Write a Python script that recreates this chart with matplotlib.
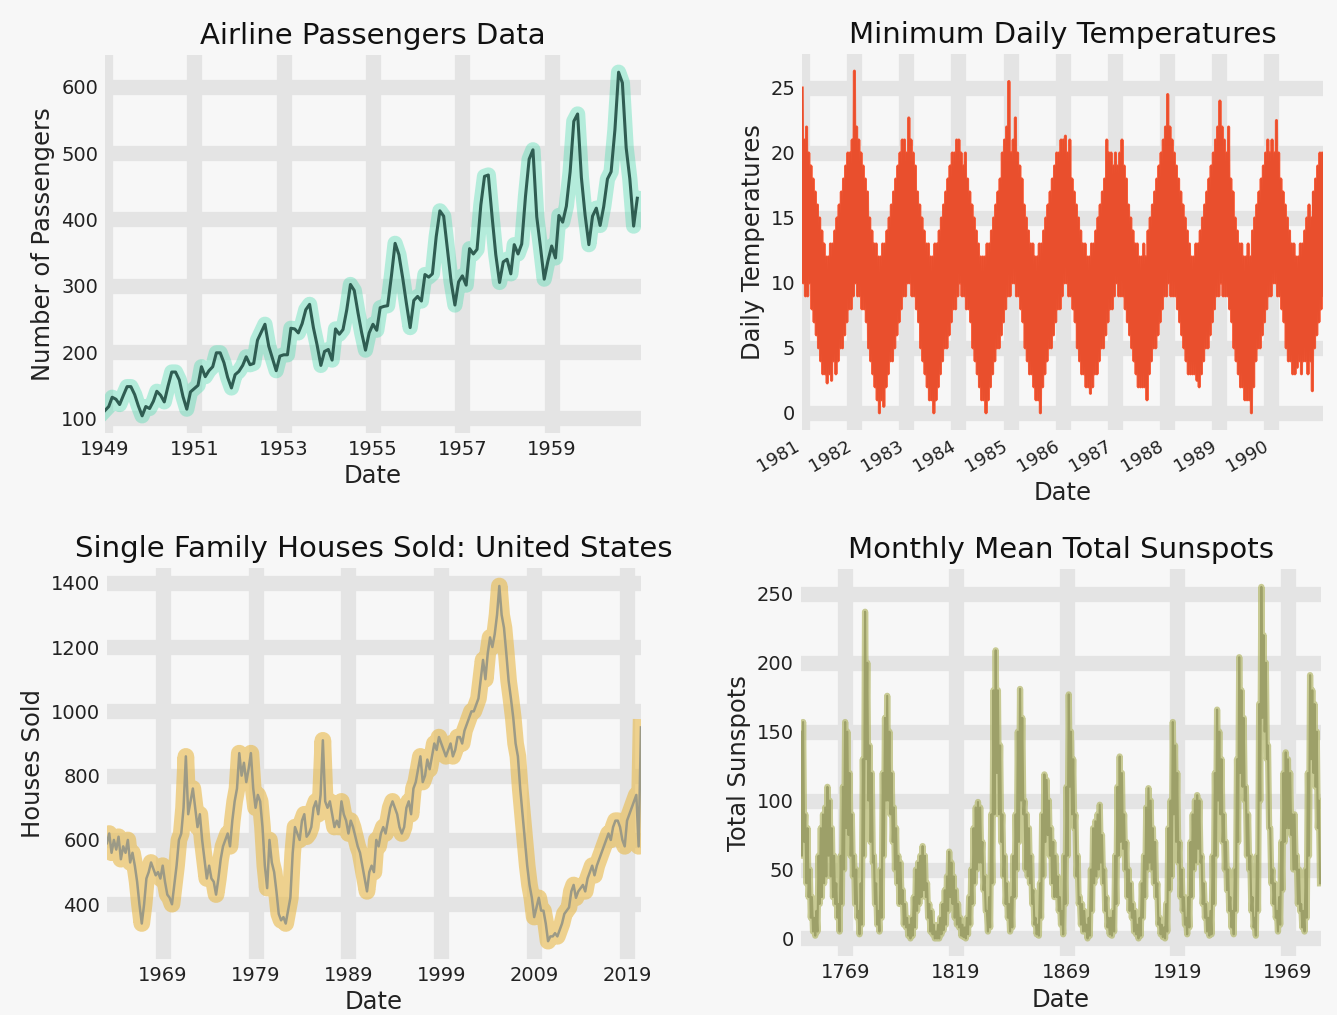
import matplotlib
matplotlib.use('Agg')
import matplotlib.pyplot as plt
import pandas as pd

# ---------------- data ----------------
airline_start = '1949-01-01'
airline_passengers = [
    112, 118, 132, 129, 121, 135, 148, 148, 136, 119, 104, 118,
    115, 126, 141, 135, 125, 149, 170, 170, 158, 133, 114, 140,
    145, 150, 178, 163, 172, 178, 199, 199, 184, 162, 146, 166,
    171, 180, 193, 181, 183, 218, 230, 242, 209, 191, 172, 194,
    196, 196, 236, 235, 229, 243, 264, 272, 237, 211, 180, 201,
    204, 188, 235, 227, 234, 264, 302, 293, 259, 229, 203, 229,
    242, 233, 267, 269, 270, 315, 364, 347, 312, 274, 237, 278,
    284, 277, 317, 313, 318, 374, 413, 405, 355, 306, 271, 306,
    315, 301, 356, 348, 355, 422, 465, 467, 404, 347, 305, 336,
    340, 318, 362, 348, 363, 435, 491, 505, 404, 359, 310, 337,
    360, 342, 406, 396, 420, 472, 548, 559, 463, 407, 362, 405,
    417, 391, 419, 461, 472, 535, 622, 606, 508, 461, 390, 432,
]
airline_years = [1949, 1951, 1953, 1955, 1957, 1959]
airline_yticks = [100, 200, 300, 400, 500, 600]

# four readings per month (high / low alternating), 1981-1990
temps_start = '1981-01-01'
temps_end = '1990-12-31'
min_temps = [
    # 1981
    25, 10, 21, 9, 22, 9, 20, 10, 19, 8, 18, 7, 17, 6, 16, 5, 15, 4, 14, 3, 13, 3, 12, 2.3,
    12, 3, 13, 2.5, 13, 4, 14, 3, 15, 4, 16, 5, 17, 5, 18, 6, 19, 7, 20, 8, 20, 8, 21, 9,
    # 1982
    26.3, 10, 22, 9, 21, 9, 20, 8, 19, 8, 18, 7, 17, 5, 15, 4, 14, 3, 13, 2, 13, 1, 12, 0,
    12, 1, 13, 0.5, 13, 2, 14, 3, 15, 4, 16, 4, 17, 5, 18, 6, 19, 7, 20, 8, 21, 9, 21, 9,
    # 1983
    20, 10, 22.7, 10, 21, 9, 20, 9, 19, 8, 17, 7, 16, 5, 15, 4, 14, 3, 13, 2, 13, 1, 12, 1,
    12, 0, 13, 1, 13, 2, 14, 3, 15, 4, 16, 5, 17, 5, 18, 6, 19, 7, 20, 8, 20, 8, 21, 9,
    # 1984
    21, 10, 20, 9, 19, 9, 20, 8, 18, 8, 17, 7, 16, 5, 15, 4, 14, 3, 13, 2, 12, 1, 12, 1,
    12, 0, 13, 1, 13, 2, 14, 3, 15, 4, 16, 5, 17, 5, 18, 6, 20, 7, 21, 8, 22, 9, 25.5, 9,
    # 1985
    20, 10, 21, 10, 22.7, 9, 20, 9, 19, 8, 18, 7, 16, 5, 15, 4, 14, 3, 13, 3, 13, 2, 12, 1,
    12, 1, 13, 0, 13, 2, 14, 3, 15, 4, 16, 5, 17, 5, 18, 6, 19, 7, 20, 8, 20, 8, 21, 9,
    # 1986
    21, 10, 21.3, 10, 20, 9, 21, 9, 18, 8, 17, 7, 16, 5, 15, 4, 14, 3, 13, 3, 13, 2, 12, 2,
    12, 1.5, 13, 2, 13, 3, 14, 3, 15, 4, 16, 5, 17, 5, 18, 6, 21, 7, 20, 8, 20, 8, 19, 9,
    # 1987
    20, 10, 19, 9, 20, 9, 21, 9, 19, 8, 18, 7, 16, 6, 15, 5, 14, 4, 13, 3, 13, 2, 12, 2,
    12, 2, 13, 2, 12, 1, 14, 3, 15, 4, 16, 5, 17, 5, 18, 6, 19, 7, 20, 8, 21, 9, 22, 9,
    # 1988
    24.5, 10, 22, 9, 21, 9, 20, 9, 19, 8, 18, 7, 17, 6, 16, 5, 15, 4, 14, 3, 13, 3, 12, 3,
    12, 3, 13, 2.5, 13, 2, 14, 3, 15, 4, 16, 5, 17, 5, 18, 6, 19, 7, 20, 8, 21, 9, 22, 9,
    # 1989
    24, 10, 22, 9, 21, 9, 20, 9, 22, 8, 18, 7, 17, 5, 15, 4, 14, 3, 13, 2, 13, 2, 12, 1,
    12, 1, 13, 1, 12, 0, 14, 2, 15, 4, 16, 5, 17, 5, 18, 6, 19, 7, 20, 8, 21, 9, 20, 9,
    # 1990
    21, 10, 20, 10, 22.5, 9, 20, 9, 18, 8, 17, 7, 16, 5, 15, 4, 14, 4, 13, 3, 13, 3, 12, 3.5,
    12, 4, 13, 3, 13, 4, 14, 4, 15, 3, 16, 4, 15, 1.7, 17, 5, 18, 6, 19, 7, 20, 8, 20, 9,
]
temps_years = list(range(1981, 1991))
temps_yticks = [0, 5, 10, 15, 20, 25]

# quarterly readings, 1963 - 2020
houses_start = '1963-01-01'
houses_sold = [
    590, 620, 560, 600,  570, 610, 540, 580,  560, 600, 530, 560,  520, 470, 400, 340,
    400, 480, 500, 530,  510, 490, 500, 480,  520, 470, 430, 420,  400, 460, 520, 600,
    620, 700, 860, 680,  720, 760, 700, 640,  680, 600, 540, 480,  520, 480, 470, 430,
    480, 540, 580, 600,  620, 580, 660, 720,  760, 870, 800, 840,  780, 820, 870, 760,
    700, 740, 720, 640,  520, 450, 600, 530,  500, 440, 370, 350,  360, 340, 380, 420,
    560, 640, 620, 600,  660, 680, 610, 620,  640, 700, 720, 680,  740, 910, 720, 700,
    720, 680, 640, 660,  640, 720, 680, 660,  620, 660, 640, 610,  580, 560, 520, 480,
    440, 500, 520, 500,  600, 580, 620, 640,  620, 660, 700, 720,  700, 680, 640, 620,
    640, 700, 720, 680,  760, 780, 820, 860,  780, 800, 850, 820,  860, 900, 880, 920,
    900, 880, 860, 880,  900, 860, 880, 920,  920, 900, 940, 960,  980, 1000, 1000, 1020,
    1040, 1100, 1160, 1100,  1180, 1230, 1200, 1240,  1300, 1390, 1300, 1260,  1180, 1095, 1040, 980,
    900, 860, 760, 680,  600, 520, 460, 420,  360, 390, 420, 380,  380, 340, 285, 300,
    300, 310, 300, 320,  340, 370, 380, 390,  440, 460, 420, 440,  450, 460, 440, 480,
    500, 520, 490, 520,  540, 560, 580, 600,  620, 600, 640, 660,  660, 640, 600, 580,
    660, 680, 700, 720,  740, 580, 950,
]
houses_years = [1969, 1979, 1989, 1999, 2009, 2019]
houses_yticks = [400, 600, 800, 1000, 1200, 1400]

# semi-annual readings (high, low within each year), 1749 - 1983
sunspots_start = '1749-01-01'
sunspots = [
    150, 60, 157, 70, 90, 40, 80, 30, 50, 15, 30, 5, 15, 2, 20, 5, 60, 25, 80, 30,      # 1749-1758
    90, 40, 95, 45, 110, 60, 100, 45, 80, 30, 60, 25, 40, 15, 25, 5, 60, 25, 110, 50,   # 1759-1768
    157, 80, 150, 75, 120, 60, 90, 45, 60, 25, 50, 15, 20, 3, 40, 10, 130, 60, 237, 130, # 1769-1778
    200, 100, 140, 70, 120, 55, 60, 25, 40, 10, 20, 5, 50, 15, 120, 60, 160, 100, 176, 100, # 1779-1788
    150, 90, 120, 70, 95, 50, 80, 40, 60, 25, 55, 25, 35, 10, 25, 8, 15, 2, 10, 0,      # 1789-1798
    15, 2, 30, 8, 50, 20, 55, 25, 60, 30, 67, 35, 60, 30, 40, 15, 25, 5, 20, 3,         # 1799-1808
    10, 0, 5, 0, 10, 0, 15, 3, 25, 6, 35, 10, 45, 20, 63, 30, 55, 25, 45, 15,           # 1809-1818
    35, 10, 25, 8, 15, 2, 10, 1, 8, 0, 15, 3, 30, 10, 50, 25, 80, 40, 95, 50,           # 1819-1828
    99, 55, 95, 55, 70, 35, 45, 20, 20, 5, 30, 8, 90, 40, 180, 90, 209, 120, 180, 90,   # 1829-1838
    140, 70, 90, 45, 60, 25, 40, 15, 25, 5, 30, 8, 60, 30, 90, 50, 150, 70, 181, 100,   # 1839-1848
    160, 90, 100, 50, 90, 45, 80, 40, 60, 25, 35, 10, 15, 3, 10, 2, 40, 15, 90, 45,     # 1849-1858
    119, 70, 115, 75, 100, 60, 80, 40, 70, 30, 60, 30, 45, 20, 30, 10, 20, 3, 60, 25,   # 1859-1868
    110, 60, 177, 110, 150, 90, 130, 80, 90, 45, 60, 25, 30, 10, 25, 5, 20, 5, 10, 0,   # 1869-1878
    15, 2, 50, 20, 80, 40, 85, 45, 90, 50, 97, 55, 75, 40, 50, 20, 30, 8, 15, 3,        # 1879-1888
    15, 2, 20, 5, 60, 25, 110, 60, 132, 70, 120, 65, 90, 50, 70, 30, 50, 20, 40, 15,    # 1889-1898
    25, 5, 20, 3, 10, 0, 15, 2, 40, 15, 60, 30, 95, 50, 109, 55, 100, 50, 80, 40,       # 1899-1908
    70, 30, 40, 10, 15, 3, 10, 1, 8, 0, 25, 5, 80, 35, 100, 45, 157, 90, 140, 70,       # 1909-1918
    120, 55, 70, 30, 50, 20, 30, 10, 15, 3, 30, 8, 70, 30, 90, 50, 100, 55, 104, 65,    # 1919-1928
    100, 55, 60, 25, 40, 15, 25, 5, 15, 2, 20, 3, 60, 25, 120, 60, 166, 100, 150, 90,   # 1929-1938
    130, 70, 90, 50, 70, 35, 50, 20, 30, 8, 20, 3, 50, 20, 130, 70, 204, 120, 180, 110, # 1939-1948
    160, 100, 110, 60, 90, 50, 60, 20, 30, 8, 15, 2, 60, 20, 170, 100, 255, 160, 220, 150, # 1949-1958
    200, 130, 140, 80, 80, 40, 50, 25, 40, 15, 20, 5, 30, 10, 70, 35, 120, 70, 135, 80, # 1959-1968
    130, 80, 120, 75, 90, 50, 90, 50, 60, 25, 50, 20, 25, 8, 20, 5, 50, 15, 120, 60,    # 1969-1978
    191, 130, 180, 120, 170, 110, 150, 80, 100, 40,                                      # 1979-1983
]
sunspot_years = [1769, 1819, 1869, 1919, 1969]
sunspot_yticks = [0, 50, 100, 150, 200, 250]

# ---------------- style ----------------
BG = '#f7f7f7'
GRID = '#e4e4e4'
TEXT = '#222222'

fig = plt.figure(figsize=(13.37, 10.15), dpi=100, facecolor=BG)

ax1 = fig.add_axes([0.0785, 0.5734, 0.401, 0.3724])
ax2 = fig.add_axes([0.600, 0.5764, 0.3897, 0.3704])
ax3 = fig.add_axes([0.080, 0.0552, 0.3994, 0.385])
ax4 = fig.add_axes([0.599, 0.0581, 0.389, 0.381])


def style(ax, title, ylabel, years, yticks):
    ax.set_facecolor(BG)
    for s in ax.spines.values():
        s.set_visible(False)
    ax.grid(True, color=GRID, lw=11, zorder=0)
    ax.set_axisbelow(True)
    ax.tick_params(length=0, labelsize=14, colors=TEXT, pad=5)
    ax.set_xticks([pd.Timestamp(f'{y}-01-01') for y in years])
    ax.set_xticklabels([str(y) for y in years])
    ax.set_yticks(yticks)
    ax.set_title(title, fontsize=21, color='#111111', pad=8)
    ax.set_xlabel('Date', fontsize=17.5, color=TEXT)
    ax.set_ylabel(ylabel, fontsize=17.5, color=TEXT)
    ax.margins(x=0)


# Airline
d1 = pd.date_range(airline_start, periods=len(airline_passengers), freq='MS')
ax1.plot(d1, airline_passengers, color='#48dcae', lw=11, alpha=0.38,
         solid_joinstyle='round', zorder=2)
ax1.plot(d1, airline_passengers, color='#2f5d52', lw=2.2, zorder=3)
style(ax1, 'Airline Passengers Data', 'Number of Passengers', airline_years, airline_yticks)
ax1.set_xlim(d1[0], pd.Timestamp('1961-01-01'))

# Temperatures
d2 = pd.date_range(temps_start, temps_end, periods=len(min_temps))
ax2.plot(d2, min_temps, color='#707070', lw=1.4, zorder=2)
ax2.plot(d2, min_temps, color='#ff4a22', lw=2.2, alpha=0.85, zorder=3)
style(ax2, 'Minimum Daily Temperatures', 'Daily Temperatures', temps_years, temps_yticks)
for lab in ax2.get_xticklabels():
    lab.set_rotation(30)
    lab.set_ha('right')
    lab.set_fontsize(13)

# Houses
d3 = pd.date_range(houses_start, periods=len(houses_sold), freq='QS')
ax3.plot(d3, houses_sold, color='#e9b949', lw=12, alpha=0.6,
         solid_joinstyle='round', zorder=2)
ax3.plot(d3, houses_sold, color='#9c9a86', lw=1.8, zorder=3)
style(ax3, 'Single Family Houses Sold: United States', 'Houses Sold', houses_years, houses_yticks)

# Sunspots
d4 = pd.date_range(sunspots_start, periods=len(sunspots), freq='6MS')
ax4.plot(d4, sunspots, color='#686868', lw=1.5, zorder=2)
ax4.plot(d4, sunspots, color='#b4b86a', lw=4.5, alpha=0.7, zorder=3)
style(ax4, 'Monthly Mean Total Sunspots', 'Total Sunspots', sunspot_years, sunspot_yticks)
ax4.set_xlim(d4[0], pd.Timestamp('1983-12-01'))

fig.savefig('out.png', dpi=100, facecolor=BG)
